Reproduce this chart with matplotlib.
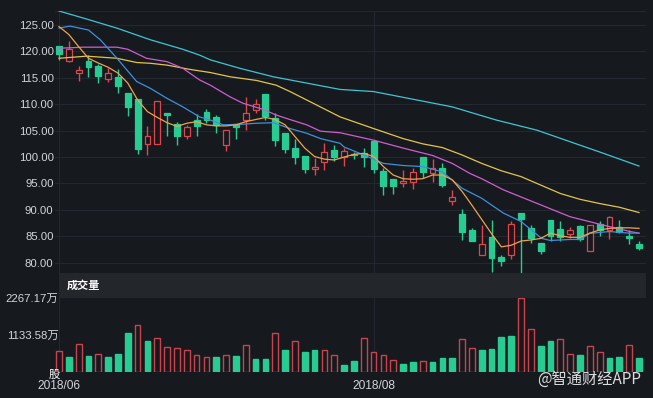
import matplotlib
matplotlib.use("Agg")
import matplotlib.pyplot as plt
from matplotlib.patches import Rectangle

# daily candles, 2018/06 .. 2018/08
opens = [121.1, 118.2, 116.0, 118.1, 117.3, 114.85, 115.1, 112.1, 111.0, 102.5,
         102.5, 108.3, 106.3, 103.9, 107.1, 108.5, 107.5, 102.3, 106.3, 107.0,
         109.0, 111.9, 107.3, 104.5, 101.7, 100.2, 97.7, 99.1, 101.3, 100.0,
         100.6, 100.7, 103.1, 97.4, 95.8, 95.0, 95.2, 100.1, 97.05, 98.0,
         91.6, 89.2, 86.2, 81.5, 84.9, 81.15, 81.5, 89.4, 86.6, 83.8,
         88.1, 86.3, 85.4, 87.0, 82.3, 87.3, 86.1, 86.8, 85.1, 83.5]
highs = [121.1, 122.0, 117.3, 119.4, 117.7, 116.8, 116.7, 112.1, 111.0, 105.8,
         110.6, 108.4, 106.7, 106.1, 108.1, 109.1, 108.0, 105.1, 106.3, 111.4,
         110.9, 111.9, 108.3, 104.5, 103.4, 100.2, 99.8, 102.7, 102.2, 101.7,
         101.0, 101.7, 103.1, 97.9, 95.8, 97.6, 97.9, 100.1, 99.7, 98.8,
         93.8, 90.1, 86.5, 87.1, 88.1, 81.5, 87.9, 89.4, 87.1, 83.8,
         88.1, 87.8, 86.8, 87.2, 87.1, 87.8, 88.85, 88.1, 86.2, 84.2]
lows = [118.4, 118.05, 114.4, 115.1, 114.1, 114.3, 112.2, 107.8, 100.6, 100.3,
        102.5, 104.0, 102.2, 103.5, 103.9, 106.5, 104.5, 101.2, 103.4, 105.1,
        108.4, 107.0, 102.0, 100.7, 98.7, 96.9, 96.6, 97.6, 99.3, 98.4,
        99.6, 98.2, 96.9, 92.8, 93.0, 94.3, 94.0, 96.1, 95.2, 94.4,
        90.9, 84.3, 84.1, 81.5, 78.3, 79.3, 80.7, 78.0, 83.8, 81.7,
        84.2, 84.2, 84.6, 84.2, 82.3, 85.0, 84.4, 85.6, 83.5, 82.4]
closes = [119.45, 120.5, 116.4, 117.1, 115.35, 116.0, 113.5, 109.4, 101.5, 103.9,
          110.6, 108.0, 103.9, 105.6, 105.9, 107.1, 106.1, 105.1, 105.6, 108.3,
          110.0, 107.8, 103.2, 101.5, 100.0, 97.7, 98.1, 100.9, 100.1, 101.2,
          100.3, 99.95, 97.75, 94.5, 94.6, 95.5, 97.1, 97.2, 97.9, 94.8,
          92.4, 85.8, 84.1, 83.5, 80.8, 80.3, 87.3, 88.3, 84.6, 82.3,
          85.1, 84.8, 86.2, 84.4, 87.1, 86.1, 88.6, 85.8, 84.75, 82.7]

# volume in 万股, and whether the bar is drawn red (hollow) or green
volumes = [645, 463, 846, 483, 544, 453, 554, 1208, 1440, 947,
           1027, 755, 745, 675, 514, 453, 463, 514, 504, 816,
           393, 403, 1178, 665, 947, 604, 675, 665, 534, 201,
           342, 1027, 604, 514, 363, 252, 312, 342, 292, 413,
           433, 1007, 725, 675, 715, 1067, 1098, 2267.17, 1329, 796,
           937, 1017, 564, 524, 786, 604, 443, 473, 836, 423]
vol_up = "rgrgrgggrgrrrrrrgrgrggrgrggrrggrrrrggrgggrrggggrrggrrgrrggrg"

# moving averages (candle index, value)
ma5_x = list(range(0, 60))
ma5 = [124.7, 123.2, 120.9, 118.7, 117.8, 117.0, 115.9, 114.0, 110.8, 108.6,
       107.5, 106.5, 105.8, 106.4, 106.7, 106.1, 105.9, 105.9, 106.1, 106.7,
       107.1, 107.5, 107.1, 106.1, 103.9, 101.7, 100.1, 99.6, 99.45, 100.0,
       100.5, 100.7, 100.1, 98.2, 96.6, 95.9, 95.8, 95.9, 96.6, 96.6,
       95.7, 93.5, 90.9, 88.2, 85.5, 83.0, 83.3, 84.1, 84.3, 84.6,
       85.6, 85.1, 84.8, 84.8, 85.6, 86.2, 86.5, 86.6, 86.6, 86.5]
ma10_x = [0, 1.1, 3, 4.2, 5.9, 7.9, 9.3, 11, 12.6, 14.3, 15.4, 16.7, 18.5, 20.1,
          21.8, 23.5, 25.2, 26.6, 28.6, 29, 31, 33, 35, 37, 39, 41, 43, 45.2,
          47, 49.1, 50, 52, 53, 54, 56, 58, 59]
ma10 = [124.4, 124.8, 124.05, 122.2, 118.7, 114.3, 113.0, 111.1, 109.5, 107.6,
        107.0, 106.1, 106.2, 106.4, 106.5, 105.4, 104.5, 103.5, 102.6, 101.9,
        100.4, 98.8, 98.4, 98.2, 97.2, 94.1, 92.2, 89.4, 87.8, 84.6, 84.2,
        84.4, 84.4, 85.55, 85.9, 85.6, 85.6]
ma20_x = [0, 2.5, 5.9, 7, 8.9, 11, 12.6, 14.3, 15.4, 17.4, 18.7, 20.8, 22.1,
          23.5, 25.2, 26.6, 28.6, 32, 35, 38, 40, 41.8, 43, 45.2, 48.6, 52,
          55.4, 58.1, 59]
ma20 = [120.6, 120.8, 120.8, 120.4, 118.7, 118.05, 116.8, 114.6, 113.6, 111.4,
        110.2, 109.0, 107.95, 107.1, 106.1, 104.9, 104.6, 103.2, 101.7, 100.3,
        98.8, 96.9, 95.9, 93.8, 91.25, 88.7, 87.1, 85.9, 85.6]
ma30_x = [0, 2.8, 5.9, 7.9, 9.3, 11, 13.3, 15.4, 17.4, 20.1, 22.1, 23.5, 25.2,
          26.9, 28.6, 32, 35, 37, 39, 41, 43, 45, 47, 49, 51, 53, 55, 57, 59]
ma30 = [118.7, 119.1, 118.7, 117.9, 117.75, 117.4, 116.6, 116.0, 115.2, 114.5,
        113.6, 112.4, 110.8, 109.2, 107.6, 105.4, 103.5, 102.5, 101.8, 100.4,
        98.8, 97.4, 96.3, 94.7, 93.1, 92.0, 91.2, 90.5, 89.5]
ma60_x = [0, 2.5, 5.9, 9.3, 12.6, 14.3, 15.4, 18.4, 21.8, 25.2, 28.6, 32, 40,
          44.5, 48.6, 52, 55.4, 59]
ma60 = [127.65, 126.3, 124.4, 122.2, 120.4, 119.3, 118.4, 116.8, 115.2, 114.0,
        112.8, 112.4, 109.5, 107.0, 105.1, 102.9, 100.7, 98.3]

x_labels = {0: "2018/06", 32: "2018/08"}
price_ticks = [80, 85, 90, 95, 100, 105, 110, 115, 120, 125]
vol_ticks = [1133.58, 2267.17]

bg = "#161a1f"
up_c = "#e0474c"
vol_red = "#c8434b"
dn_c = "#27cc92"
grid_c = "#222730"
txt_c = "#d2d5da"
num_font = ["Liberation Sans", "Noto Sans CJK SC"]
cjk_font = ["Noto Sans CJK SC", "DejaVu Sans"]

W, H = 653, 398
fig = plt.figure(figsize=(W / 100, H / 100), dpi=100, facecolor=bg)

def px_axes(x0, y0, x1, y1):
    # pixel box (top-left origin) -> figure axes
    return fig.add_axes([x0 / W, 1 - y1 / H, (x1 - x0) / W, (y1 - y0) / H])

step = 9.83
x_left, x_right = 55, 646
xlim = ((x_left - 59) / step, (x_right - 59) / step)

ax = px_axes(x_left, 11, x_right, 273)
band = px_axes(59, 273, x_right, 297.5)
vax = px_axes(x_left, 297.5, x_right, 372)

for a in (ax, vax):
    a.set_facecolor(bg)
    for s in a.spines.values():
        s.set_visible(False)
    a.set_xlim(*xlim)
    a.set_xticks([])
    for xi in x_labels:
        a.axvline(xi, color=grid_c, lw=0.8, zorder=0)

# price panel
ax.set_ylim(78.05, 127.65)
ax.set_yticks(price_ticks)
ax.set_yticklabels(["%.2f" % t for t in price_ticks], color=txt_c,
                   fontsize=8.2, family=num_font)
ax.tick_params(axis="y", length=0, pad=1)
for t in price_ticks:
    ax.axhline(t, color=grid_c, lw=0.8, zorder=0)
ax.axhline(127.6, color=grid_c, lw=0.8, zorder=0)

for i in range(len(closes)):
    o, h, l, c = opens[i], highs[i], lows[i], closes[i]
    up = c >= o
    col = up_c if up else dn_c
    ax.vlines(i, l, h, color=col, lw=1.0, zorder=2)
    ax.add_patch(Rectangle((i - 0.3, min(o, c)), 0.6, max(abs(c - o), 0.1),
                           facecolor=bg if up else col, edgecolor=col,
                           lw=0.9, zorder=3))

ax.plot(ma60_x, ma60, color="#3fc4d4", lw=0.9, zorder=4)
ax.plot(ma30_x, ma30, color="#e3c44a", lw=0.9, zorder=4)
ax.plot(ma20_x, ma20, color="#d05cd0", lw=0.9, zorder=4)
ax.plot(ma10_x, ma10, color="#3f8fdc", lw=0.9, zorder=4)
ax.plot(ma5_x, ma5, color="#f0a24a", lw=0.9, zorder=4)

# header band of the volume panel
band.set_facecolor("#23262b")
band.set_xticks([])
band.set_yticks([])
for s in band.spines.values():
    s.set_visible(False)
band.text(7.5 / (x_right - 59), 0.5, "成交量", transform=band.transAxes,
          color="white", fontsize=8, fontweight="bold", family=cjk_font,
          va="center", ha="left")

# volume panel
idx = list(range(len(volumes)))
vcols = [vol_red if f == "r" else dn_c for f in vol_up]
vfaces = [bg if f == "r" else dn_c for f in vol_up]
vax.bar(idx, volumes, width=0.58, color=vfaces, edgecolor=vcols, lw=1.0,
        zorder=2)
vax.set_ylim(0, 2267.17 * 1.005)
vax.set_yticks(vol_ticks)
vax.set_yticklabels(["%.2f万" % t for t in vol_ticks], color=txt_c,
                    fontsize=8.2, family=num_font)
vax.tick_params(axis="y", length=0, pad=-2.5)

fig.text(54.5 / W, 1 - 375 / H, "股", color="white", fontsize=8.2,
         family=cjk_font, ha="center", va="center")
for xi, lab in x_labels.items():
    fig.text((59 + xi * step) / W, 1 - 386 / H, lab, color=txt_c,
             fontsize=8.6, family=num_font, ha="center", va="center")

fig.text(589 / W, 1 - 379 / H, "@智通财经APP", color="white", alpha=0.85,
         fontsize=11, family=cjk_font, ha="center", va="center")

fig.savefig("out.png", dpi=100, facecolor=bg)
